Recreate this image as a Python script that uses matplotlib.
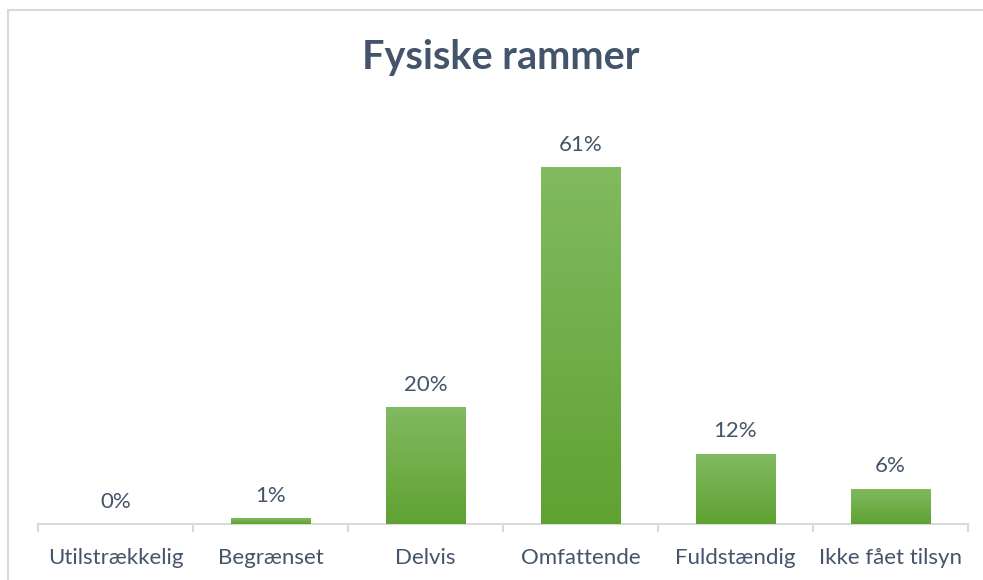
import numpy as np
import matplotlib.pyplot as plt
from matplotlib.patches import Rectangle
from matplotlib.colors import LinearSegmentedColormap

# data
categories = ["Utilstrækkelig", "Begrænset", "Delvis", "Omfattende", "Fuldstændig", "Ikke fået tilsyn"]
values = [0, 1, 20, 61, 12, 6]
labels = ["0%", "1%", "20%", "61%", "12%", "6%"]

text_color = "#44546A"
grid_color = "#D9D9D9"

plt.rcParams["font.family"] = ["Lato", "DejaVu Sans"]

fig = plt.figure(figsize=(9.83, 5.8), dpi=100)

# outer chart frame (cut off at right and bottom in the original)
fig.patches.append(Rectangle((8 / 983, -0.1), 1.2, 1 - 10 / 580 + 0.1,
                             transform=fig.transFigure, fill=False,
                             edgecolor=grid_color, linewidth=1.5))

ax = fig.add_axes([38 / 983, 56 / 580, 930 / 983, 421 / 580])
x = np.arange(len(categories))
bars = ax.bar(x, values, width=0.51, color="#70AD47", zorder=2)

# vertical gradient on each bar, lighter on top
cmap = LinearSegmentedColormap.from_list("g", ["#5FA232", "#81BA60"])
grad = np.linspace(0, 1, 256).reshape(-1, 1)
for b in bars:
    if b.get_height() <= 0:
        continue
    x0, w, h = b.get_x(), b.get_width(), b.get_height()
    im = ax.imshow(grad, cmap=cmap, origin="lower", aspect="auto",
                   extent=(x0, x0 + w, 0, h), zorder=3)
    im.set_clip_path(b)

for xi, v, lab in zip(x, values, labels):
    ax.annotate(lab, (xi, v), xytext=(0, 9), textcoords="offset points",
                ha="center", va="bottom", fontsize=16, color=text_color)

ax.set_xlim(-0.5, len(categories) - 0.5)
ax.set_ylim(0, 72)
ax.set_yticks([])
ax.set_xticks(x)
ax.set_xticklabels(categories, fontsize=16, color=text_color)
ax.tick_params(axis="x", length=0, pad=17)
ax.set_xticks(np.arange(len(categories) + 1) - 0.5, minor=True)
ax.tick_params(axis="x", which="minor", length=6, width=1.5, color=grid_color)

for s in ["top", "left", "right"]:
    ax.spines[s].set_visible(False)
ax.spines["bottom"].set_color(grid_color)
ax.spines["bottom"].set_linewidth(1.5)

fig.text(0.509, 1 - 58 / 580, "Fysiske rammer", ha="center", va="center",
         fontsize=28.5, fontweight="bold", color=text_color)

fig.savefig("out.png", dpi=100)
